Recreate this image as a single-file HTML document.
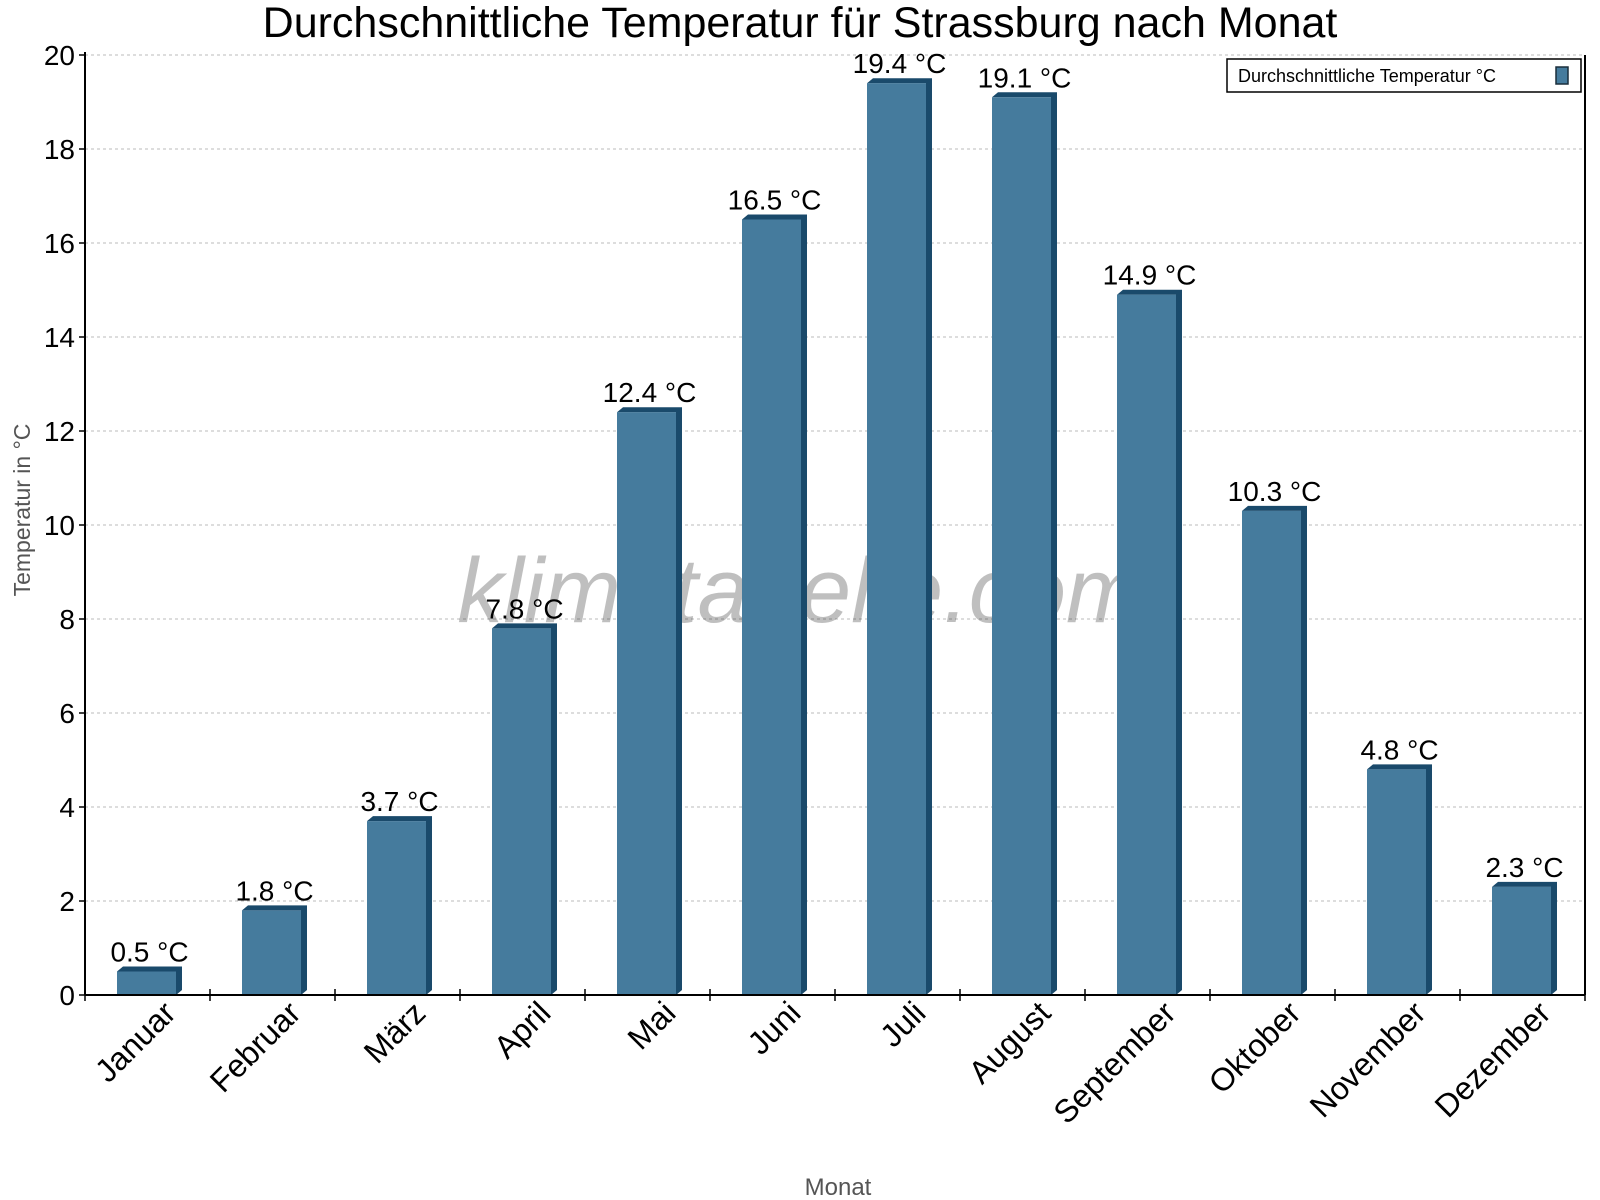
<!DOCTYPE html>
<html><head><meta charset="utf-8"><style>body{margin:0;background:#fff}svg{display:block;font-family:"Liberation Sans",sans-serif}</style></head>
<body>
<svg id="chart" width="1600" height="1200" viewBox="0 0 1600 1200">
<text x="800" y="37" text-anchor="middle" font-size="43">Durchschnittliche Temperatur für Strassburg nach Monat</text>
<g id="grid"></g>
<text x="800" y="622" text-anchor="middle" font-size="92" font-style="italic" fill="#000" fill-opacity="0.25">klimatabelle.com</text>
<g id="bars"></g>
<g id="axes"></g>
<text transform="translate(30,510) rotate(-90)" text-anchor="middle" font-size="23" fill="#555">Temperatur in °C</text>
<text x="838" y="1195" text-anchor="middle" font-size="24" fill="#555">Monat</text>
<g>
<rect x="1227" y="59" width="354" height="33" fill="#fff" stroke="#000" stroke-width="1.5"/>
<text x="1238" y="82" font-size="18">Durchschnittliche Temperatur °C</text>
<rect x="1556" y="67" width="12" height="17" fill="#457b9d" stroke="#1a2e3b" stroke-width="1.5"/>
</g>
</svg>
<script>
const months=["Januar","Februar","März","April","Mai","Juni","Juli","August","September","Oktober","November","Dezember"];
const temps=[0.5,1.8,3.7,7.8,12.4,16.5,19.4,19.1,14.9,10.3,4.8,2.3];
const yTicks=[0,2,4,6,8,10,12,14,16,18,20];
const NS="http://www.w3.org/2000/svg";
const x0=85,x1=1585,yBase=995,yTop=55,yMax=20;
const band=(x1-x0)/months.length;
function y(v){return yBase-(v/yMax)*(yBase-yTop);}
function bx(i){return x0+i*band;}
function mk(tag,attrs,parent){const e=document.createElementNS(NS,tag);for(const k in attrs)e.setAttribute(k,attrs[k]);parent.appendChild(e);return e;}
const grid=document.getElementById('grid'),bars=document.getElementById('bars'),axes=document.getElementById('axes');
yTicks.forEach(t=>{
 if(t>0){const g=mk('line',{x1:x0,x2:x1,y1:y(t),y2:y(t),stroke:'#bbb','stroke-dasharray':'3,3'},grid);
 
 }
 const tk=mk('line',{x1:x0-6,x2:x0,y1:y(t),y2:y(t),stroke:'#000','stroke-width':1.5},axes);
 
 
 const tl=mk('text',{x:x0-10,y:y(t)+10,'text-anchor':'end','font-size':28},axes);
 tl.textContent=t;
 
 
});
temps.forEach((v,i)=>{
 const l=bx(i)+32,w=59,d=6,top=y(v);
 const g=mk('g',{},bars);
 
 
 mk('polygon',{points:`${l},${top} ${l+d},${top-5} ${l+w+d},${top-5} ${l+w+d},${yBase-5} ${l+w},${yBase} ${l+w},${top}`,fill:'#1a4a6b'},g);
 mk('rect',{x:l,y:top,width:w,height:yBase-top,fill:'#457b9d'},g);
 const t=mk('text',{x:l+w/2+3,y:top-10,'text-anchor':'middle','font-size':28},bars);
 t.textContent=v.toFixed(1)+' °C';
 
 
 const c=bx(i)+band/2;
 const xl=mk('text',{transform:`translate(${c+30},${yBase+20}) rotate(-45)`,'text-anchor':'end','font-size':32},axes);
 xl.textContent=months[i];
 
 
});
for(let i=0;i<=months.length;i++){
 const tk=mk('line',{x1:bx(i),x2:bx(i),y1:yBase-6,y2:yBase+6,stroke:'#000','stroke-width':1.5},axes);
 
 
}
const ya=mk('line',{x1:x0,x2:x0,y1:yTop-3,y2:yBase,stroke:'#000','stroke-width':2},axes);


const ya2=mk('line',{x1:x1,x2:x1,y1:yTop,y2:yBase,stroke:'#000','stroke-width':2},axes);


const xa=mk('line',{x1:x0,x2:x1,y1:yBase,y2:yBase,stroke:'#000','stroke-width':2},axes);


</script>
</body></html>
